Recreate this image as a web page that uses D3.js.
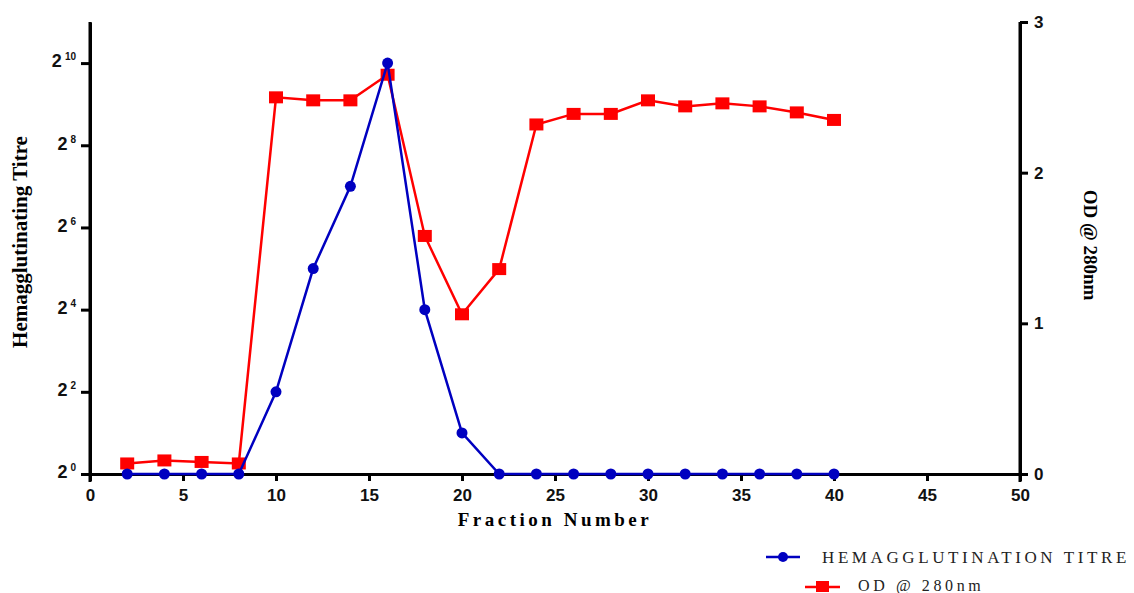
<!DOCTYPE html>
<html>
<head>
<meta charset="utf-8">
<script src="https://d3js.org/d3.v7.min.js"></script>
<style>
  body { margin: 0; background: #fff; }
  .tick text { font-family: "Liberation Sans", Arial, sans-serif; font-weight: bold; }
</style>
</head>
<body>
<script>
// fraction numbers
var fractions = [2, 4, 6, 8, 10, 12, 14, 16, 18, 20, 22, 24, 26, 28, 30, 32, 34, 36, 38, 40];
// hemagglutination titre, as power of 2
var titreExp = [0, 0, 0, 0, 2, 5, 7, 10, 4, 1, 0, 0, 0, 0, 0, 0, 0, 0, 0, 0];
// OD @ 280nm
var od = [0.07, 0.09, 0.08, 0.07, 2.50, 2.48, 2.48, 2.65, 1.58, 1.06, 1.36, 2.32, 2.39, 2.39, 2.48, 2.44, 2.46, 2.44, 2.40, 2.35];
var xTicks = [0, 5, 10, 15, 20, 25, 30, 35, 40, 45, 50];
var leftTicks = [0, 2, 4, 6, 8, 10];
var rightTicks = [0, 1, 2, 3];

var w = 1134, h = 593;
var mLeft = 90, mRight = 1020, mTop = 22, mBottom = 474;

var svg = d3.select("body").append("svg")
  .attr("width", w).attr("height", h);

var x = d3.scaleLinear().domain([0, 50]).range([mLeft, mRight]);
var yL = d3.scaleLinear().domain([0, 11]).range([mBottom, mTop]);
var yR = d3.scaleLinear().domain([0, 3]).range([mBottom, mTop]);

// bottom axis
var gx = svg.append("g").attr("transform", "translate(0," + mBottom + ")")
  .call(d3.axisBottom(x).tickValues(xTicks).tickSize(7).tickSizeOuter(0));
gx.selectAll("text").attr("font-size", 17).attr("dy", "1.0em").attr("fill", "#111");

// left axis, labels drawn as 2 with superscript
var gl = svg.append("g").attr("transform", "translate(" + mLeft + ",0)")
  .call(d3.axisLeft(yL).tickValues(leftTicks).tickSize(9).tickSizeOuter(0).tickFormat(""));
gl.selectAll(".tick").append("text")
  .attr("x", -14).attr("y", 0).attr("dy", "0.38em")
  .attr("text-anchor", "end").attr("fill", "#111")
  .each(function(d) {
    var t = d3.select(this);
    t.append("tspan").attr("font-size", 18).text("2");
    t.append("tspan").attr("font-size", 10).attr("dx", 3).attr("dy", -7).text(d);
  });

// right axis
var gr = svg.append("g").attr("transform", "translate(" + mRight + ",0)")
  .call(d3.axisRight(yR).tickValues(rightTicks).tickSize(8).tickSizeOuter(0).tickFormat(d3.format("d")));
gr.selectAll("text").attr("font-size", 17).attr("x", 14).attr("fill", "#111");

svg.selectAll(".domain").attr("stroke", "#000").attr("stroke-width", 3);
svg.selectAll(".tick line").attr("stroke", "#000").attr("stroke-width", 3);

// extend axes so they meet at corners
svg.append("line").attr("x1", mLeft).attr("x2", mLeft).attr("y1", mTop).attr("y2", mBottom + 8)
  .attr("stroke", "#000").attr("stroke-width", 3);
svg.append("line").attr("x1", mRight).attr("x2", mRight).attr("y1", mTop).attr("y2", mBottom + 8)
  .attr("stroke", "#000").attr("stroke-width", 3);

// axis titles
svg.append("text")
  .attr("transform", "translate(27,242) rotate(-90)")
  .attr("text-anchor", "middle")
  .attr("font-family", "Liberation Serif, Times New Roman, serif")
  .attr("font-weight", "bold").attr("font-size", 21)
  .text("Hemagglutinating Titre");

svg.append("text")
  .attr("transform", "translate(1084,245) rotate(90)")
  .attr("text-anchor", "middle")
  .attr("font-family", "Liberation Serif, Times New Roman, serif")
  .attr("font-weight", "bold").attr("font-size", 19)
  .text("OD @ 280nm");

svg.append("text")
  .attr("x", 555).attr("y", 526)
  .attr("text-anchor", "middle")
  .attr("font-family", "Liberation Serif, Times New Roman, serif")
  .attr("font-weight", "bold").attr("font-size", 19)
  .attr("letter-spacing", 3.5)
  .text("Fraction Number");

// data
var titreData = fractions.map(function(f, i) { return {x: f, y: titreExp[i]}; });
var odData = fractions.map(function(f, i) { return {x: f, y: od[i]}; });

var odLine = d3.line().x(function(d) { return x(d.x); }).y(function(d) { return yR(d.y); });
var tLine = d3.line().x(function(d) { return x(d.x); }).y(function(d) { return yL(d.y); });

svg.append("path").datum(odData).attr("d", odLine)
  .attr("fill", "none").attr("stroke", "#ff0000").attr("stroke-width", 2.5);
svg.selectAll(".sq").data(odData).enter().append("rect")
  .attr("x", function(d) { return x(d.x) - 7; })
  .attr("y", function(d) { return yR(d.y) - 6; })
  .attr("width", 14).attr("height", 12)
  .attr("fill", "#ff0000");

svg.append("path").datum(titreData).attr("d", tLine)
  .attr("fill", "none").attr("stroke", "#0000c0").attr("stroke-width", 2.5);
svg.selectAll(".dot").data(titreData).enter().append("circle")
  .attr("cx", function(d) { return x(d.x); })
  .attr("cy", function(d) { return yL(d.y); })
  .attr("r", 5.5)
  .attr("fill", "#0000c0");

// legend
var lg = svg.append("g");
lg.append("line").attr("x1", 766).attr("x2", 800).attr("y1", 557).attr("y2", 557)
  .attr("stroke", "#0000c0").attr("stroke-width", 2.5);
lg.append("circle").attr("cx", 783).attr("cy", 557).attr("r", 5).attr("fill", "#0000c0");
lg.append("text").attr("x", 822).attr("y", 563)
  .attr("font-family", "Liberation Serif, Times New Roman, serif")
  .attr("font-size", 17).attr("letter-spacing", 3.6).attr("fill", "#222")
  .text("HEMAGGLUTINATION TITRE");

lg.append("line").attr("x1", 805).attr("x2", 840).attr("y1", 587).attr("y2", 587)
  .attr("stroke", "#ff0000").attr("stroke-width", 2.5);
lg.append("rect").attr("x", 816).attr("y", 581).attr("width", 13).attr("height", 11).attr("fill", "#ff0000");
lg.append("text").attr("x", 858).attr("y", 591)
  .attr("font-family", "Liberation Serif, Times New Roman, serif")
  .attr("font-size", 16).attr("letter-spacing", 3.6).attr("fill", "#222")
  .text("OD @ 280nm");
</script>
</body>
</html>
